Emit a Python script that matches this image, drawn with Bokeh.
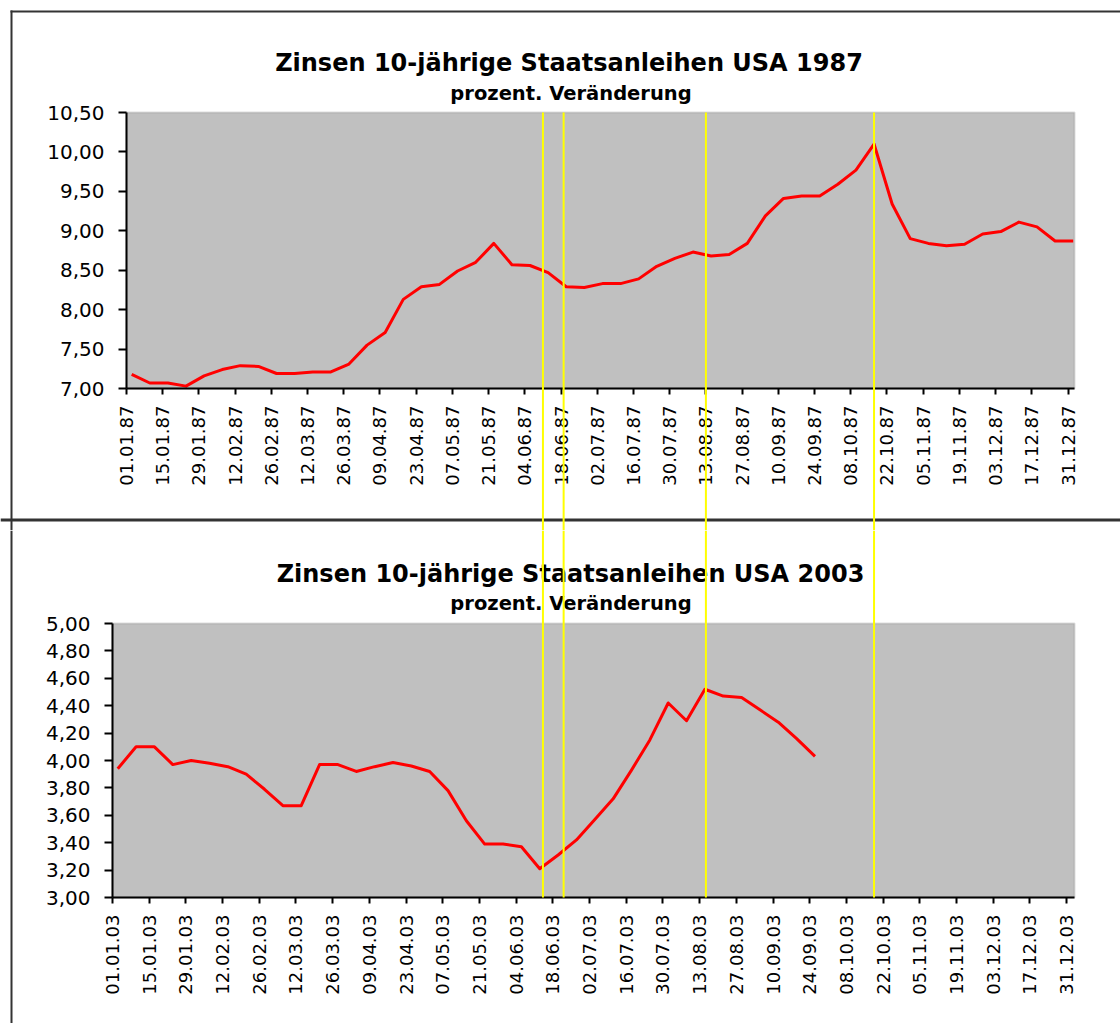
import numpy as np
import pandas as pd
from bokeh.plotting import figure
from bokeh.models import (Range1d, FixedTicker, DatetimeTickFormatter, CustomJSTickFormatter,
                          Label, BoxAnnotation, ColumnDataSource)
from bokeh.layouts import column
from bokeh.embed import file_html
from bokeh.resources import INLINE

# ---------------- data ----------------
TITLE_1987 = "Zinsen 10-jährige Staatsanleihen USA 1987"
TITLE_2003 = "Zinsen 10-jährige Staatsanleihen USA 2003"
SUBTITLE = "prozent. Veränderung"

X_TICKS_1987 = ["01.01.87", "15.01.87", "29.01.87", "12.02.87", "26.02.87", "12.03.87", "26.03.87",
                "09.04.87", "23.04.87", "07.05.87", "21.05.87", "04.06.87", "18.06.87", "02.07.87",
                "16.07.87", "30.07.87", "13.08.87", "27.08.87", "10.09.87", "24.09.87", "08.10.87",
                "22.10.87", "05.11.87", "19.11.87", "03.12.87", "17.12.87", "31.12.87"]
X_TICKS_2003 = ["01.01.03", "15.01.03", "29.01.03", "12.02.03", "26.02.03", "12.03.03", "26.03.03",
                "09.04.03", "23.04.03", "07.05.03", "21.05.03", "04.06.03", "18.06.03", "02.07.03",
                "16.07.03", "30.07.03", "13.08.03", "27.08.03", "10.09.03", "24.09.03", "08.10.03",
                "22.10.03", "05.11.03", "19.11.03", "03.12.03", "17.12.03", "31.12.03"]
Y_TICKS_1987 = [7.0, 7.5, 8.0, 8.5, 9.0, 9.5, 10.0, 10.5]
Y_TICKS_2003 = [3.0, 3.2, 3.4, 3.6, 3.8, 4.0, 4.2, 4.4, 4.6, 4.8, 5.0]

# weekly observations
DATES_1987 = pd.date_range("1987-01-03", periods=53, freq="7D")
YIELD_1987 = [7.18, 7.07, 7.07, 7.03, 7.16, 7.24, 7.29, 7.28, 7.19, 7.19,
              7.21, 7.21, 7.31, 7.55, 7.71, 8.13, 8.29, 8.32, 8.49, 8.60,
              8.84, 8.57, 8.56, 8.47, 8.29, 8.28, 8.33, 8.33, 8.39, 8.55,
              8.65, 8.73, 8.68, 8.70, 8.84, 9.19, 9.41, 9.44, 9.44, 9.59,
              9.77, 10.10, 9.34, 8.90, 8.84, 8.81, 8.83, 8.96, 8.99, 9.11,
              9.05, 8.87, 8.87]

DATES_2003 = pd.date_range("2003-01-03", periods=39, freq="7D")
YIELD_2003 = [3.94, 4.10, 4.10, 3.97, 4.00, 3.98, 3.955, 3.90, 3.79, 3.67,
              3.67, 3.97, 3.97, 3.92, 3.955, 3.985, 3.96, 3.92, 3.78, 3.56,
              3.39, 3.39, 3.37, 3.21, 3.31, 3.42, 3.57, 3.72, 3.93, 4.15,
              4.42, 4.29, 4.52, 4.47, 4.46, 4.37, 4.28, 4.16, 4.03]

# dates marked by the yellow vertical lines (read on the 1987 axis)
MARKER_DATES = ["1987-06-11", "1987-06-19", "1987-08-13", "1987-10-17"]

# ---------------- layout constants ----------------
W = 1120
TOP_H, BOT_H = 530, 493
# plot area inside each canvas: left, right, top, bottom (pixels)
TOP_AREA = (126, 1074, 112, 388)
BOT_AREA = (112, 1074, 93, 367)
X1_LIM = ("1987-01-01", "1988-01-02 12:00")
X2_LIM = ("2003-01-01", "2004-01-03")
DIVIDER_Y = 519.5        # page row (centre) of the line separating the two charts

FONT = "DejaVu Sans"
YELLOW = "#FFFF00"
BORDER = "#333333"


def ms(d):
    return pd.Timestamp(d).value / 1e6


def make_chart(H, area, x_lim, x_labels, y_ticks, dates, values):
    left, right, top, bottom = area
    x0, x1 = ms(x_lim[0]), ms(x_lim[1])
    kx = (x1 - x0) / (right - left)
    y0, y1 = y_ticks[0], y_ticks[-1]
    ky = (y1 - y0) / (bottom - top)
    xr = Range1d(x0 - left * kx, x0 + (W - left) * kx)
    yr = Range1d(y0 - (H - bottom) * ky, y1 + top * ky)

    p = figure(width=W, height=H, x_axis_type="datetime", x_range=xr, y_range=yr,
               output_backend="svg", toolbar_location=None,
               min_border_left=0, min_border_right=0, min_border_top=0, min_border_bottom=0)
    p.title.visible = False
    p.background_fill_color = "white"
    p.border_fill_color = "white"
    p.outline_line_color = None
    p.xgrid.grid_line_color = None
    p.ygrid.grid_line_color = None

    # plot area
    p.add_layout(BoxAnnotation(left=x0, right=x1, bottom=y0, top=y1, level="underlay",
                               fill_color="#C0C0C0", fill_alpha=1.0,
                               line_color="#8a8a8a", line_width=2))

    src = ColumnDataSource(data=dict(date=dates, value=values))
    p.line("date", "value", source=src, line_color="#FF0000", line_width=3, line_join="round")

    # axes at the edges of the plot area
    xax, yax = p.xaxis[0], p.yaxis[0]
    xax.fixed_location = y0
    yax.fixed_location = x0
    xax.bounds = (x0, x1)
    yax.bounds = (y0, y1)
    tick_ms = (pd.to_datetime(x_labels, format="%d.%m.%y").asi8 // 10**6).tolist()
    xax.ticker = FixedTicker(ticks=tick_ms, num_minor_ticks=0)
    fmt = "%d.%m.%y"
    xax.formatter = DatetimeTickFormatter(
        microseconds=fmt, milliseconds=fmt, seconds=fmt, minsec=fmt, minutes=fmt,
        hourmin=fmt, hours=fmt, days=fmt, months=fmt, years=fmt)
    yax.ticker = FixedTicker(ticks=y_ticks, num_minor_ticks=0)
    yax.formatter = CustomJSTickFormatter(code="return tick.toFixed(2).replace('.', ',');")
    for ax in (xax, yax):
        ax.axis_line_color = "black"
        ax.axis_line_width = 2
        ax.major_tick_line_color = "black"
        ax.major_tick_line_width = 2
        ax.minor_tick_line_color = None
        ax.major_tick_in = 0
        ax.major_label_text_font = FONT
        ax.major_label_text_color = "black"
    xax.major_tick_out = 6
    xax.major_label_orientation = np.pi / 2
    xax.major_label_text_font_size = "18px"
    xax.major_label_standoff = 11
    yax.major_tick_out = 8
    yax.major_label_text_font_size = "20px"
    yax.major_label_standoff = 14
    return p, x0, kx, left, ky


def add_titles(p, H, title, tx, tbase, sx, sbase):
    p.add_layout(Label(x=tx, y=H - tbase, x_units="screen", y_units="screen", text=title,
                       text_font=FONT, text_font_size="24px", text_font_style="bold",
                       text_align="center", text_baseline="alphabetic", text_color="black"))
    p.add_layout(Label(x=sx, y=H - sbase, x_units="screen", y_units="screen", text=SUBTITLE,
                       text_font=FONT, text_font_size="19.5px", text_font_style="bold",
                       text_align="center", text_baseline="alphabetic", text_color="black"))


def sbox(p, l, r, b, t, color):
    # box in screen pixels (x from left, y from bottom)
    p.add_layout(BoxAnnotation(left=l, right=r, bottom=b, top=t,
                               left_units="screen", right_units="screen",
                               bottom_units="screen", top_units="screen",
                               fill_color=color, fill_alpha=1.0, line_color=None))


# ---------------- charts ----------------
p1, x0_1, kx_1, left_1, ky_1 = make_chart(TOP_H, TOP_AREA, X1_LIM, X_TICKS_1987, Y_TICKS_1987,
                                          DATES_1987, YIELD_1987)
p2, x0_2, kx_2, left_2, ky_2 = make_chart(BOT_H, BOT_AREA, X2_LIM, X_TICKS_2003, Y_TICKS_2003,
                                          DATES_2003, YIELD_2003)

add_titles(p1, TOP_H, TITLE_1987, 568.5, 62, 570.5, 92.5)
add_titles(p2, BOT_H, TITLE_2003, 570, 573 - TOP_H, 570.5, 603 - TOP_H)

# ---------------- sheet borders ----------------
sbox(p1, 10, W, TOP_H - 12, TOP_H - 10, BORDER)                        # top border
sbox(p1, 10, 12, 0, TOP_H - 10, BORDER)                                # left border
sbox(p2, 10, 12, 0, BOT_H, BORDER)                                     # left border
# divider between the two charts, drawn as a line across the whole top canvas
div_val = p1.y_range.start + (TOP_H - DIVIDER_Y) * ky_1
p1.line([p1.x_range.start, p1.x_range.end], [div_val, div_val],
        line_color=BORDER, line_width=3)

# ---------------- yellow marker lines crossing both charts ----------------
for d in MARKER_DATES:
    px = left_1 + (ms(d) - x0_1) / kx_1
    p1.add_layout(BoxAnnotation(left=px - 1, right=px + 1, left_units="screen", right_units="screen",
                                bottom=p1.y_range.start, top=Y_TICKS_1987[-1],
                                fill_color=YELLOW, fill_alpha=1.0, line_color=None))
    p2.add_layout(BoxAnnotation(left=px - 1, right=px + 1, left_units="screen", right_units="screen",
                                bottom=Y_TICKS_2003[0], top=p2.y_range.end,
                                fill_color=YELLOW, fill_alpha=1.0, line_color=None))

layout = column(p1, p2)
open("out.html", "w").write(file_html(layout, INLINE))
